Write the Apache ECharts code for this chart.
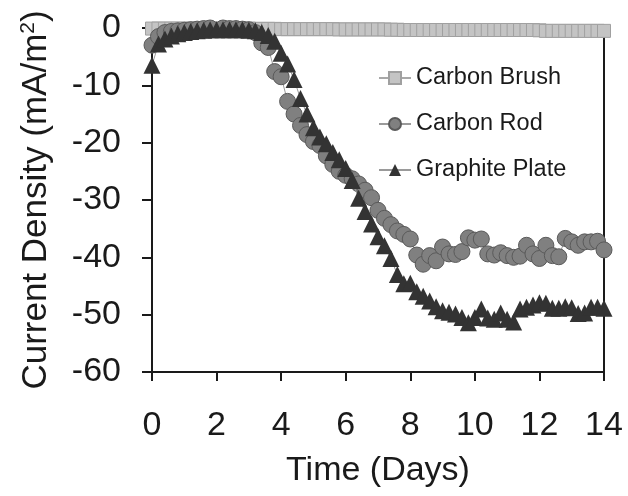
<!DOCTYPE html>
<html>
<head>
<meta charset="utf-8">
<script src="https://cdn.jsdelivr.net/npm/echarts@6/dist/echarts.min.js"></script>
<style>
html,body{margin:0;padding:0;background:#fff;}
#c{width:628px;height:496px;}
</style>
</head>
<body>
<div id="c"></div>
<script>
// ---- data ----
const days = [0,0.2,0.4,0.6,0.8,1.0,1.2,1.4,1.6,1.8,2.0,2.2,2.4,2.6,2.8,3.0,3.2,3.4,3.6,3.8,
  4.0,4.2,4.4,4.6,4.8,5.0,5.2,5.4,5.6,5.8,6.0,6.2,6.4,6.6,6.8,7.0,7.2,7.4,7.6,7.8,
  8.0,8.2,8.4,8.6,8.8,9.0,9.2,9.4,9.6,9.8,10.0,10.2,10.4,10.6,10.8,11.0,11.2,11.4,11.6,11.8,
  12.0,12.2,12.4,12.6,12.8,13.0,13.2,13.4,13.6,13.8,14.0];
const carbonBrush = [-0.1,-0.1,-0.1,-0.1,-0.1,-0.1,-0.1,-0.1,-0.1,-0.1,-0.1,-0.1,-0.1,-0.1,-0.1,-0.1,-0.15,-0.15,-0.15,-0.15,
  -0.2,-0.2,-0.2,-0.2,-0.2,-0.2,-0.2,-0.2,-0.2,-0.25,-0.25,-0.25,-0.25,-0.25,-0.25,-0.25,-0.25,-0.3,-0.3,-0.35,
  -0.35,-0.35,-0.35,-0.35,-0.35,-0.35,-0.35,-0.35,-0.35,-0.35,-0.35,-0.35,-0.35,-0.35,-0.35,-0.35,-0.35,-0.35,-0.35,-0.35,
  -0.4,-0.5,-0.5,-0.5,-0.5,-0.5,-0.5,-0.5,-0.5,-0.5,-0.5];
const carbonRod = [-3.0,-1.5,-0.8,-0.6,-0.5,-0.4,-0.3,-0.2,-0.1,0.0,0.2,0.0,-0.1,-0.1,-0.2,-0.3,-0.8,-2.6,-3.4,-7.6,
  -8.5,-12.8,-15.0,-17.0,-18.6,-19.8,-20.5,-22.3,-23.8,-25.0,-25.7,-26.3,-27.2,-28.3,-29.6,-31.8,-33.2,-34.3,-35.4,-36.0,
  -36.8,-39.6,-41.2,-39.7,-40.6,-38.2,-39.4,-39.5,-39.0,-36.6,-37.0,-36.8,-39.4,-39.6,-39.2,-39.7,-40.0,-39.8,-37.9,-39.4,
  -40.2,-37.9,-39.7,-39.9,-36.7,-37.3,-37.9,-37.3,-37.3,-37.2,-38.7];
const graphitePlate = [-6.5,-2.8,-1.9,-1.4,-1.0,-0.8,-0.6,-0.5,-0.4,-0.3,-0.3,-0.3,-0.3,-0.3,-0.3,-0.4,-0.5,-0.8,-1.3,-2.3,
  -4.4,-6.3,-9.0,-12.3,-15.0,-17.4,-19.0,-20.2,-21.7,-23.0,-24.5,-26.6,-29.7,-32.0,-34.2,-36.4,-38.0,-40.2,-43.0,-44.6,
  -44.5,-46.0,-46.8,-47.6,-48.6,-49.3,-49.6,-49.9,-50.5,-51.4,-50.5,-49.0,-50.6,-50.8,-49.7,-50.8,-51.3,-49.0,-48.7,-48.3,
  -47.9,-48.0,-48.9,-48.9,-48.6,-48.8,-49.8,-49.7,-48.7,-48.7,-48.9];
const seriesNames = ['Carbon Brush','Carbon Rod','Graphite Plate'];
const xTicks = {min:0, max:14, interval:2};
const yTicks = {min:-60, max:0, interval:10};

const pairs = arr => days.map((d,i)=>[d,arr[i]]);
const txt = '#1a1a1a';
const font = 'Liberation Sans, Arial, sans-serif';

const chart = echarts.init(document.getElementById('c'));
chart.setOption({
  animation:false,
  backgroundColor:'#fff',
  grid:{left:152,right:24,top:28,bottom:124,containLabel:false},
  legend:{
    orient:'vertical', left:373, top:61,
    itemWidth:32, itemHeight:15, itemGap:22,
    textStyle:{fontSize:23.5, color:txt, fontFamily:font, lineHeight:24, padding:[0,0,0,0]},
    data:seriesNames
  },
  xAxis:{
    type:'value', min:xTicks.min, max:xTicks.max, interval:xTicks.interval,
    name:'Time (Days)', nameLocation:'middle', nameGap:82,
    nameTextStyle:{fontSize:34, color:txt, fontFamily:font},
    axisLine:{show:true,onZero:false,lineStyle:{color:txt,width:2}},
    axisTick:{show:true,inside:false,length:9,lineStyle:{color:txt,width:2}},
    axisLabel:{fontSize:34,color:txt,fontFamily:font,margin:37},
    splitLine:{show:false}
  },
  yAxis:[{
    type:'value', min:yTicks.min, max:yTicks.max, interval:yTicks.interval,
    name:'Current Density (mA/m{sup|2})', nameLocation:'middle', nameGap:97,
    nameTextStyle:{fontSize:35, color:txt, fontFamily:font,
      rich:{sup:{fontSize:21,color:txt,fontFamily:font,verticalAlign:'bottom',padding:[0,0,16,0]}}},
    axisLine:{show:true,onZero:false,lineStyle:{color:txt,width:2}},
    axisTick:{show:true,inside:false,length:10,lineStyle:{color:txt,width:2}},
    axisLabel:{fontSize:34,color:txt,fontFamily:font,margin:31},
    splitLine:{show:false}
  },{
    type:'value', position:'right', min:yTicks.min, max:yTicks.max, interval:yTicks.interval,
    axisLine:{show:true,onZero:false,lineStyle:{color:txt,width:2}},
    axisTick:{show:false}, axisLabel:{show:false}, splitLine:{show:false}
  }],
  series:[
    {name:seriesNames[0], type:'line', data:pairs(carbonBrush), symbol:'rect', symbolSize:13,
      showAllSymbol:true,
      lineStyle:{color:'#a8a8a8',width:1},
      itemStyle:{color:'#c4c4c4',borderColor:'#a0a0a0',borderWidth:1}, z:2},
    {name:seriesNames[1], type:'line', data:pairs(carbonRod), symbol:'circle', symbolSize:16,
      showAllSymbol:true,
      lineStyle:{color:'#9a9a9a',width:1},
      itemStyle:{color:'#808080',borderColor:'#5a5a5a',borderWidth:1}, z:3},
    {name:seriesNames[2], type:'line', data:pairs(graphitePlate), symbol:'triangle', symbolSize:17,
      showAllSymbol:true,
      lineStyle:{color:'#9a9a9a',width:1},
      itemStyle:{color:'#333333',borderColor:'#333333',borderWidth:0}, z:4}
  ]
});
</script>
</body>
</html>
